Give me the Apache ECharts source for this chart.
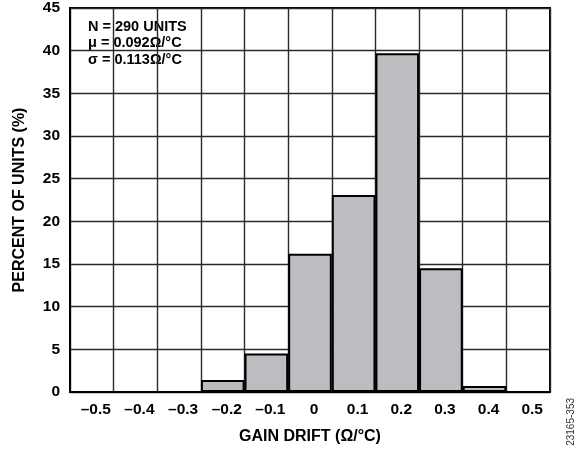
<!DOCTYPE html>
<html>
<head>
<meta charset="utf-8">
<script src="https://cdn.jsdelivr.net/npm/echarts@6/dist/echarts.min.js"></script>
<style>
  html, body { margin: 0; padding: 0; background: #fff; }
  #chart { width: 585px; height: 452px; }
</style>
</head>
<body>
<div id="chart"></div>
<script>
// Histogram of gain drift across the tested population
const binLabels = ['–0.5', '–0.4', '–0.3', '–0.2', '–0.1', '0', '0.1', '0.2', '0.3', '0.4', '0.5'];
const percentOfUnits = [null, null, null, 1.4, 4.5, 16.2, 23.1, 39.7, 14.5, 0.7, null];
const yTicks = { min: 0, max: 45, step: 5 };
const statsLines = ['N = 290 UNITS', 'μ = 0.092Ω/°C', 'σ = 0.113Ω/°C'];

const FONT = '"Liberation Sans", Arial, Helvetica, sans-serif';

const chart = echarts.init(document.getElementById('chart'), null, { renderer: 'canvas' });

chart.setOption({
  animation: false,
  backgroundColor: '#fff',
  grid: {
    left: 70, right: 35, top: 8, bottom: 60,
    show: true, borderColor: '#000', borderWidth: 2, backgroundColor: 'transparent'
  },
  xAxis: {
    type: 'category',
    data: binLabels,
    boundaryGap: true,
    name: 'GAIN DRIFT (Ω/°C)',
    nameLocation: 'middle',
    nameGap: 37,
    nameTextStyle: { fontFamily: FONT, fontWeight: 'bold', fontSize: 16, color: '#000' },
    axisLine: { show: true, lineStyle: { color: '#000', width: 2 } },
    axisTick: { show: false },
    axisLabel: {
      fontFamily: FONT, fontWeight: 'bold', fontSize: 15.5, color: '#000',
      margin: 10, padding: [0, 0, 0, 8]
    },
    splitLine: { show: true, lineStyle: { color: '#2a2a2a', width: 1.4 } }
  },
  yAxis: {
    type: 'value',
    min: yTicks.min, max: yTicks.max, interval: yTicks.step,
    name: 'PERCENT OF UNITS (%)',
    nameLocation: 'middle',
    nameGap: 42,
    nameRotate: 90,
    nameTextStyle: { fontFamily: FONT, fontWeight: 'bold', fontSize: 16, color: '#000' },
    axisLine: { show: true, lineStyle: { color: '#000', width: 2 } },
    axisTick: { show: false },
    axisLabel: { fontFamily: FONT, fontWeight: 'bold', fontSize: 15.5, color: '#000', margin: 10 },
    splitLine: { show: true, lineStyle: { color: '#2a2a2a', width: 1.4 } }
  },
  series: [{
    type: 'bar',
    data: percentOfUnits,
    barWidth: '100%',
    barGap: '0%',
    itemStyle: { color: '#bcbdc0', borderColor: '#000', borderWidth: 2 },
    z: 3
  }],
  graphic: [
    {
      type: 'group', left: 77, top: 16, z: 100,
      children: [
        { type: 'rect', shape: { x: 0, y: 0, width: 121, height: 61 }, style: { fill: '#fff' } },
        {
          type: 'text', x: 11, y: 3,
          style: {
            text: statsLines.join('\n'),
            font: 'bold 14.5px ' + FONT,
            fill: '#000',
            lineHeight: 16.3
          }
        }
      ]
    },
    {
      type: 'text', left: 566, top: 398, rotation: Math.PI / 2, z: 100,
      style: { text: '23165-353', font: '10px ' + FONT, fill: '#333' }
    }
  ]
});
</script>
</body>
</html>
